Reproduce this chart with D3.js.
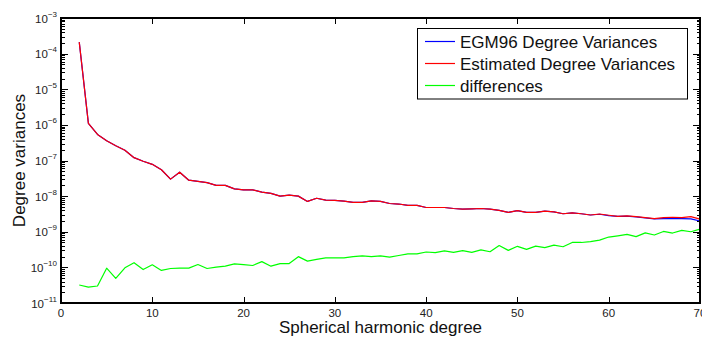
<!DOCTYPE html>
<html>
<head>
<meta charset="utf-8">
<script src="https://cdn.jsdelivr.net/npm/d3@7"></script>
<style>
  html, body { margin: 0; padding: 0; background: #fff; }
  svg { display: block; font-family: "Liberation Sans", Arial, Helvetica, sans-serif; }
</style>
</head>
<body>
<svg id="chart" width="702" height="338"></svg>
<script>
const degrees = d3.range(2, 71);

const egm96 = [
  2.1e-4, 1.1e-6, 5.4e-7, 3.6e-7, 2.6e-7, 1.95e-7, 1.2e-7, 9.5e-8, 7.8e-8,
  5.5e-8, 3.0e-8, 4.7e-8, 2.8e-8, 2.6e-8, 2.4e-8, 2.0e-8, 2.0e-8, 1.6e-8,
  1.5e-8, 1.5e-8, 1.3e-8, 1.2e-8, 1.0e-8, 1.07e-8, 1.0e-8, 7.1e-9, 8.7e-9,
  7.7e-9, 7.6e-9, 7.2e-9, 6.7e-9, 6.7e-9, 7.4e-9, 7.1e-9, 6.2e-9, 6.0e-9,
  5.5e-9, 5.5e-9, 4.8e-9, 4.8e-9, 4.8e-9, 4.5e-9, 4.3e-9, 4.4e-9, 4.5e-9,
  4.3e-9, 4.0e-9, 3.5e-9, 3.9e-9, 3.5e-9, 3.5e-9, 3.8e-9, 3.6e-9, 3.2e-9,
  3.4e-9, 3.2e-9, 2.95e-9, 3.1e-9, 2.85e-9, 2.7e-9, 2.75e-9, 2.6e-9, 2.45e-9,
  2.3e-9, 2.35e-9, 2.35e-9, 2.35e-9, 2.3e-9, 2.0e-9
];

const estimated = [
  2.1e-4, 1.1e-6, 5.4e-7, 3.6e-7, 2.6e-7, 1.95e-7, 1.2e-7, 9.5e-8, 7.8e-8,
  5.5e-8, 3.0e-8, 4.7e-8, 2.8e-8, 2.6e-8, 2.4e-8, 2.0e-8, 2.0e-8, 1.6e-8,
  1.5e-8, 1.5e-8, 1.3e-8, 1.2e-8, 1.0e-8, 1.07e-8, 1.0e-8, 7.1e-9, 8.7e-9,
  7.7e-9, 7.6e-9, 7.2e-9, 6.7e-9, 6.7e-9, 7.4e-9, 7.1e-9, 6.2e-9, 6.0e-9,
  5.5e-9, 5.5e-9, 4.8e-9, 4.8e-9, 4.8e-9, 4.5e-9, 4.3e-9, 4.4e-9, 4.5e-9,
  4.3e-9, 4.0e-9, 3.5e-9, 3.9e-9, 3.5e-9, 3.5e-9, 3.8e-9, 3.6e-9, 3.2e-9,
  3.4e-9, 3.2e-9, 2.95e-9, 3.15e-9, 2.9e-9, 2.7e-9, 2.8e-9, 2.65e-9, 2.5e-9,
  2.35e-9, 2.5e-9, 2.55e-9, 2.5e-9, 2.65e-9, 2.25e-9
];

const differences = [
  3.2e-11, 2.8e-11, 3.0e-11, 9.5e-11, 4.9e-11, 9.7e-11, 1.35e-10, 8.7e-11, 1.18e-10,
  8.2e-11, 9.3e-11, 9.5e-11, 9.5e-11, 1.2e-10, 9.3e-11, 1.02e-10, 1.08e-10, 1.26e-10,
  1.2e-10, 1.13e-10, 1.45e-10, 1.08e-10, 1.28e-10, 1.28e-10, 2.0e-10, 1.5e-10, 1.67e-10,
  1.85e-10, 1.85e-10, 1.85e-10, 2.0e-10, 2.1e-10, 2.0e-10, 2.1e-10, 1.94e-10, 2.15e-10,
  2.4e-10, 2.4e-10, 2.7e-10, 2.6e-10, 2.9e-10, 2.65e-10, 2.95e-10, 2.65e-10, 3.1e-10,
  2.75e-10, 4.1e-10, 3.0e-10, 3.9e-10, 3.2e-10, 3.95e-10, 3.6e-10, 4.2e-10, 3.8e-10,
  5.0e-10, 5.0e-10, 5.3e-10, 5.8e-10, 7.1e-10, 7.7e-10, 8.4e-10, 7.3e-10, 9.3e-10,
  8.1e-10, 1.02e-9, 9.2e-10, 1.09e-9, 1.0e-9, 1.18e-9
];

const xTicks = [0, 10, 20, 30, 40, 50, 60, 70];
const yExponents = [-11, -10, -9, -8, -7, -6, -5, -4, -3];
const seriesNames = ["EGM96 Degree Variances", "Estimated Degree Variances", "differences"];
const seriesColors = ["#0000ff", "#ff0000", "#00ff00"];
const xLabel = "Spherical harmonic degree";
const yLabel = "Degree variances";

const L = 61, R = 700, T = 18, B = 303;
const svg = d3.select("#chart");
const x = d3.scaleLinear().domain([0, 70]).range([L, R]);
const y = d3.scaleLog().domain([1e-11, 1e-3]).range([B, T]);

// minor log ticks
const minorVals = [];
yExponents.slice(0, -1).forEach(e => {
  for (let k = 2; k <= 9; k++) minorVals.push(k * Math.pow(10, e));
});
const majorVals = yExponents.map(e => Math.pow(10, e));

const ticks = svg.append("g").attr("stroke", "#000").attr("stroke-width", 1).attr("shape-rendering", "crispEdges");
minorVals.forEach(v => {
  const yy = Math.round(y(v)) + 0.5;
  ticks.append("line").attr("x1", L).attr("x2", L + 3.5).attr("y1", yy).attr("y2", yy);
  ticks.append("line").attr("x1", R).attr("x2", R - 3.5).attr("y1", yy).attr("y2", yy);
});
majorVals.forEach(v => {
  const yy = Math.round(y(v)) + 0.5;
  ticks.append("line").attr("x1", L).attr("x2", L + 7).attr("y1", yy).attr("y2", yy);
  ticks.append("line").attr("x1", R).attr("x2", R - 7).attr("y1", yy).attr("y2", yy);
});
xTicks.forEach(v => {
  const xx = Math.round(x(v)) + 0.5;
  ticks.append("line").attr("x1", xx).attr("x2", xx).attr("y1", B).attr("y2", B - 6);
  ticks.append("line").attr("x1", xx).attr("x2", xx).attr("y1", T).attr("y2", T + 6);
});

// data lines
const line = d3.line().x((d, i) => x(degrees[i])).y(d => y(d));
[egm96, estimated, differences].forEach((s, i) => {
  svg.append("path").datum(s).attr("d", line)
    .attr("fill", "none").attr("stroke", seriesColors[i]).attr("stroke-width", 1.2)
    .attr("stroke-linejoin", "round");
});

// axes box
svg.append("rect").attr("x", L).attr("y", T).attr("width", R - L).attr("height", B - T)
  .attr("fill", "none").attr("stroke", "#000").attr("stroke-width", 2);

// x tick labels
svg.append("g").selectAll("text").data(xTicks).join("text")
  .attr("x", d => x(d)).attr("y", 317).attr("text-anchor", "middle")
  .attr("font-size", 11.5).attr("fill", "#222").text(d => d);

// y tick labels with superscripts
yExponents.forEach(e => {
  const yy = y(Math.pow(10, e));
  const t = svg.append("text").attr("x", 57).attr("y", yy + 4.5).attr("text-anchor", "end")
    .attr("font-size", 11.5).attr("fill", "#222");
  t.append("tspan").text("10");
  t.append("tspan").attr("dy", -6).attr("font-size", 8).text("\u2212" + Math.abs(e));
});

// axis labels
svg.append("text").attr("x", (L + R) / 2).attr("y", 333).attr("text-anchor", "middle")
  .attr("font-size", 17).attr("fill", "#111").text(xLabel);
svg.append("text").attr("transform", `translate(25,${(T + B) / 2}) rotate(-90)`)
  .attr("text-anchor", "middle").attr("font-size", 17).attr("fill", "#111").text(yLabel);

// legend
const lg = svg.append("g");
lg.append("rect").attr("x", 417.5).attr("y", 28.5).attr("width", 270).attr("height", 70.5)
  .attr("fill", "#fff").attr("stroke", "#000").attr("stroke-width", 1);
seriesNames.forEach((n, i) => {
  const cy = 41.5 + i * 22;
  lg.append("line").attr("x1", 425).attr("x2", 455).attr("y1", cy).attr("y2", cy)
    .attr("stroke", seriesColors[i]).attr("stroke-width", 1.2);
  lg.append("text").attr("x", 460).attr("y", cy + 6).attr("font-size", 17).attr("fill", "#111").text(n);
});
</script>
</body>
</html>
